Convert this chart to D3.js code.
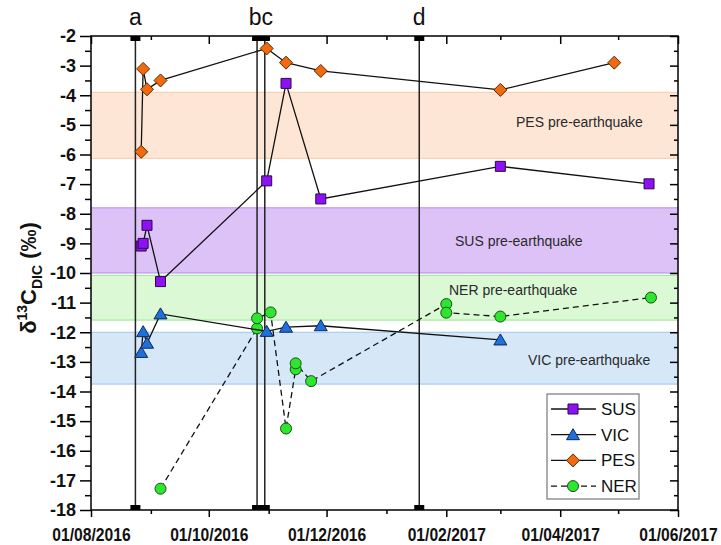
<!DOCTYPE html>
<html>
<head>
<meta charset="utf-8">
<script src="https://cdn.jsdelivr.net/npm/d3@7"></script>
<style>
  html, body { margin: 0; padding: 0; background: #fff; }
  svg { display: block; }
  text { font-family: "Liberation Sans", Arial, sans-serif; }
</style>
</head>
<body>
<svg id="chart" width="721" height="545"></svg>
<script>
// Sampling dates and δ13C-DIC values (‰) for each spring
const susDates  = ["2016-08-27","2016-08-28","2016-08-30","2016-09-06","2016-10-31","2016-11-10","2016-11-28","2017-03-01","2017-05-17"];
const susValues = [-9.09, -9.0, -8.39, -10.29, -6.89, -3.6, -7.5, -6.4, -6.99];

const vicDates  = ["2016-08-27","2016-08-28","2016-08-30","2016-09-06","2016-10-31","2016-11-10","2016-11-28","2017-03-01"];
const vicValues = [-12.68, -11.98, -12.37, -11.38, -11.97, -11.83, -11.78, -12.26];

const pesDates  = ["2016-08-27","2016-08-28","2016-08-30","2016-09-06","2016-10-31","2016-11-10","2016-11-28","2017-03-01","2017-04-29"];
const pesValues = [-5.91, -3.11, -3.8, -3.5, -2.42, -2.9, -3.18, -3.82, -2.9];

const nerDates  = ["2016-09-06","2016-10-26","2016-10-26","2016-11-02","2016-11-10","2016-11-15","2016-11-15","2016-11-23","2017-02-01","2017-02-01","2017-03-01","2017-05-18"];
const nerValues = [-17.28, -11.87, -11.53, -11.33, -15.25, -13.25, -13.05, -13.65, -11.05, -11.34, -11.47, -10.83];

// Pre-earthquake ranges
const bandNames  = ["PES", "SUS", "NER", "VIC"];
const bandTop    = [-3.9, -7.8, -10.08, -12.0];
const bandBottom = [-6.13, -10.0, -11.59, -13.75];

// Seismic events
const eventNames = ["a", "b", "c", "d"];
const eventDates = ["2016-08-24", "2016-10-26", "2016-10-30", "2017-01-18"];

// Axis ticks
const xMajorTicks = ["2016-08-01","2016-10-01","2016-12-01","2017-02-01","2017-04-01","2017-06-01"];
const xMinorTicks = ["2016-09-01","2016-11-01","2017-01-01","2017-03-01","2017-05-01"];
const yMajorTicks = d3.range(-18, -1.5, 1);
const yMinorTicks = d3.range(-17.5, -2, 1);

const parse = d3.utcParse("%Y-%m-%d");
const fmt = d3.utcFormat("%d/%m/%Y");

const svg = d3.select("#chart");
const L = 91, R = 678, T = 36, B = 510;

const x = d3.scaleUtc().domain([parse("2016-08-01"), parse("2017-06-01")]).range([L, R]);
const y = d3.scaleLinear().domain([-18, -2]).range([B, T]);

// Band styling
const bandFill   = {PES: "#fde6d6", SUS: "#ddc2f8", NER: "#dbf9d5", VIC: "#d6e7f8"};
const bandStroke = {PES: "#f7cba9", SUS: "#b98ae8", NER: "#94ea8e", VIC: "#9dc4ef"};
const bandLabelX = {PES: 516, SUS: 455, NER: 449, VIC: 528};
const bandLabelShift = {PES: 2, SUS: 6, NER: -3, VIC: 7};

const bands = bandNames.map((n, i) => ({name: n, top: bandTop[i], bottom: bandBottom[i]}));

const gBands = svg.append("g");
gBands.selectAll("rect").data(bands).join("rect")
  .attr("x", L).attr("width", R - L)
  .attr("y", d => y(d.top)).attr("height", d => y(d.bottom) - y(d.top))
  .attr("fill", d => bandFill[d.name]);
bands.forEach(d => {
  [d.top, d.bottom].forEach(v => {
    gBands.append("line")
      .attr("x1", L).attr("x2", R).attr("y1", y(v)).attr("y2", y(v))
      .attr("stroke", bandStroke[d.name]).attr("stroke-width", 1);
  });
});
gBands.selectAll("text").data(bands).join("text")
  .attr("x", d => bandLabelX[d.name])
  .attr("y", d => (y(d.top) + y(d.bottom)) / 2 + bandLabelShift[d.name])
  .attr("font-size", 14).attr("fill", "#2a2a2a")
  .text(d => d.name + " pre-earthquake");

// Event lines
const events = eventNames.map((n, i) => ({name: n, date: parse(eventDates[i])}));
const gEv = svg.append("g");
gEv.selectAll("line").data(events).join("line")
  .attr("x1", d => x(d.date)).attr("x2", d => x(d.date))
  .attr("y1", T).attr("y2", B)
  .attr("stroke", "#222").attr("stroke-width", 1.5);
events.forEach(d => {
  gEv.append("rect").attr("x", x(d.date) - 5).attr("y", T).attr("width", 10).attr("height", 5).attr("fill", "#000");
  gEv.append("rect").attr("x", x(d.date) - 5).attr("y", B - 5).attr("width", 10).attr("height", 5).attr("fill", "#000");
});
const evLabels = [
  {text: "a", xpos: x(events[0].date)},
  {text: "bc", xpos: (x(events[1].date) + x(events[2].date)) / 2},
  {text: "d", xpos: x(events[3].date)}
];
svg.append("g").selectAll("text").data(evLabels).join("text")
  .attr("x", d => d.xpos).attr("y", 25)
  .attr("text-anchor", "middle").attr("font-size", 23).attr("fill", "#111")
  .text(d => d.text);

// Series
const makeSeries = (dates, values) => dates.map((d, i) => ({date: parse(d), value: values[i]}));
const series = [
  {name: "NER", data: makeSeries(nerDates, nerValues), fill: "#2ee62e", stroke: "#1d4d1d", dash: "6,4", shape: "circle"},
  {name: "SUS", data: makeSeries(susDates, susValues), fill: "#9010f5", stroke: "#2a0a45", dash: null, shape: "square"},
  {name: "VIC", data: makeSeries(vicDates, vicValues), fill: "#1f6fdc", stroke: "#0d2a55", dash: null, shape: "triangle"},
  {name: "PES", data: makeSeries(pesDates, pesValues), fill: "#f26a0f", stroke: "#5a2a05", dash: null, shape: "diamond"}
];

const shapePath = {
  circle: "M-5.5,0A5.5,5.5 0 1,0 5.5,0A5.5,5.5 0 1,0 -5.5,0Z",
  square: "M-5,-5H5V5H-5Z",
  triangle: "M0,-6L6.5,5L-6.5,5Z",
  diamond: "M0,-6.5L6.5,0L0,6.5L-6.5,0Z"
};

const line = d3.line().x(d => x(d.date)).y(d => y(d.value));
series.forEach(s => {
  const g = svg.append("g");
  g.append("path").datum(s.data).attr("d", line)
    .attr("fill", "none").attr("stroke", "#111").attr("stroke-width", 1.3)
    .attr("stroke-dasharray", s.dash);
  g.selectAll("path.m").data(s.data).join("path").attr("class", "m")
    .attr("d", shapePath[s.shape])
    .attr("transform", d => `translate(${x(d.date)},${y(d.value)})`)
    .attr("fill", s.fill).attr("stroke", s.stroke).attr("stroke-width", 1);
});

// Axes
const axisFont = g => g.selectAll("text").attr("font-size", 18).attr("font-weight", "bold").attr("fill", "#111")
  .attr("font-family", "'Liberation Sans', Arial, sans-serif");

const xb = svg.append("g").attr("transform", `translate(0,${B})`)
  .call(d3.axisBottom(x).tickValues(xMajorTicks.map(parse)).tickFormat(fmt).tickSize(7).tickPadding(6));
xb.call(axisFont);
// condensed date labels
xb.selectAll("text").attr("dy", null).attr("y", 31).attr("transform", "scale(0.87,1)");
svg.append("g").attr("transform", `translate(0,${B})`)
  .call(d3.axisBottom(x).tickValues(xMinorTicks.map(parse)).tickFormat("").tickSize(4));

svg.append("g").attr("transform", `translate(0,${T})`)
  .call(d3.axisTop(x).tickValues(xMajorTicks.map(parse)).tickFormat("").tickSize(-8));
svg.append("g").attr("transform", `translate(0,${T})`)
  .call(d3.axisTop(x).tickValues(xMinorTicks.map(parse)).tickFormat("").tickSize(-4));

const yl = svg.append("g").attr("transform", `translate(${L},0)`)
  .call(d3.axisLeft(y).tickValues(yMajorTicks).tickFormat(d3.format("d")).tickSize(11).tickPadding(4));
yl.call(axisFont);
yl.selectAll("text").text(d => String(d));
svg.append("g").attr("transform", `translate(${L},0)`)
  .call(d3.axisLeft(y).tickValues(yMinorTicks).tickFormat("").tickSize(6));

svg.append("g").attr("transform", `translate(${R},0)`)
  .call(d3.axisRight(y).tickValues(yMajorTicks).tickFormat("").tickSize(-8));
svg.append("g").attr("transform", `translate(${R},0)`)
  .call(d3.axisRight(y).tickValues(yMinorTicks).tickFormat("").tickSize(-4));

svg.selectAll(".domain").remove();
svg.selectAll(".tick line").attr("stroke", "#000").attr("stroke-width", 1.5);

// Plot frame
svg.append("rect").attr("x", L).attr("y", T).attr("width", R - L).attr("height", B - T)
  .attr("fill", "none").attr("stroke", "#000").attr("stroke-width", 1.5);

// Y axis title
const title = svg.append("text")
  .attr("transform", `translate(36,${(T + B) / 2 + 5}) rotate(-90)`)
  .attr("text-anchor", "middle").attr("font-size", 22).attr("font-weight", "bold").attr("fill", "#111");
title.append("tspan").text("δ");
title.append("tspan").attr("font-size", 14).attr("dy", -9).text("13");
title.append("tspan").attr("dy", 9).text("C");
title.append("tspan").attr("font-size", 14).attr("dy", 6).text("DIC");
title.append("tspan").attr("dy", -6).text(" (‰)");

// Legend
const lg = svg.append("g");
lg.append("rect").attr("x", 547).attr("y", 394).attr("width", 92).attr("height", 105)
  .attr("fill", "#fff").attr("stroke", "#777").attr("stroke-width", 1.2);
const legendOrder = ["SUS", "VIC", "PES", "NER"];
legendOrder.forEach((n, i) => {
  const s = series.find(t => t.name === n);
  const cy = 409 + i * 25.7;
  lg.append("line").attr("x1", 551).attr("x2", 596).attr("y1", cy).attr("y2", cy)
    .attr("stroke", "#111").attr("stroke-width", 1.3).attr("stroke-dasharray", s.dash);
  lg.append("path").attr("d", shapePath[s.shape]).attr("transform", `translate(573,${cy})`)
    .attr("fill", s.fill).attr("stroke", s.stroke).attr("stroke-width", 1);
  lg.append("text").attr("x", 601).attr("y", cy + 6).attr("font-size", 17).attr("fill", "#111").text(n);
});
</script>
</body>
</html>
